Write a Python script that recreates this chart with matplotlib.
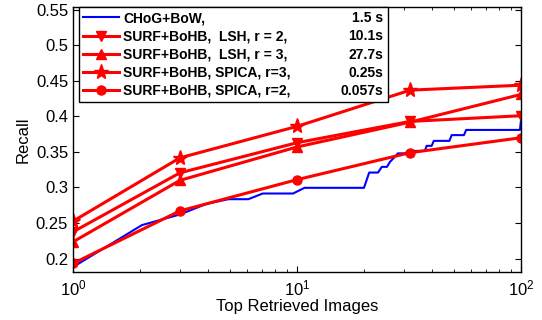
import matplotlib
matplotlib.use('Agg')
import matplotlib.pyplot as plt

plt.rcParams['font.family'] = ['Liberation Sans', 'DejaVu Sans']
plt.rcParams['mathtext.fontset'] = 'custom'
plt.rcParams['mathtext.rm'] = 'Liberation Sans'

# top-k retrieved images for the red curves
k = [1, 3, 10, 32, 100]
lsh_r2 = [0.2375, 0.3206, 0.363, 0.393, 0.401]
lsh_r3 = [0.2234, 0.310, 0.357, 0.392, 0.431]
spica_r3 = [0.2525, 0.3417, 0.386, 0.437, 0.444]
spica_r2 = [0.193, 0.267, 0.311, 0.349, 0.370]

# CHoG+BoW curve (dense, step-like)
chog_x = [1, 2.03, 3.0, 3.95, 4.94, 6.06, 7.03, 9.6, 10.8, 19.9, 21.0, 23.0,
          23.9, 25.2, 26.0, 27.3, 28.2, 30.4, 31.4, 37.2, 37.9, 39.9, 40.8,
          47.9, 49.0, 55.6, 56.9, 98.9, 100]
chog_y = [0.188, 0.247, 0.262, 0.277, 0.2835, 0.2835, 0.2915, 0.2915, 0.2995,
          0.2995, 0.321, 0.321, 0.329, 0.329, 0.336, 0.343, 0.348, 0.348,
          0.3515, 0.3515, 0.3586, 0.3586, 0.3656, 0.3656, 0.3737, 0.3737,
          0.381, 0.381, 0.395]

labels = ['CHoG+BoW,', 'SURF+BoHB,  LSH, r = 2,', 'SURF+BoHB,  LSH, r = 3,',
          'SURF+BoHB, SPICA, r=3,', 'SURF+BoHB, SPICA, r=2,']
times = ['1.5 s', '10.1s', '27.7s', '0.25s', '0.057s']

fig = plt.figure(figsize=(5.42, 3.2), dpi=100)
ax = fig.add_axes([0.1347, 0.15, 0.8266, 0.828])

ax.plot(chog_x, chog_y, color='blue', lw=1.5, label=labels[0])
ax.plot(k, lsh_r2, color='red', lw=2.2, marker='v', ms=7.5, label=labels[1])
ax.plot(k, lsh_r3, color='red', lw=2.2, marker='^', ms=7.5, label=labels[2])
ax.plot(k, spica_r3, color='red', lw=2.2, marker='*', ms=11, label=labels[3])
ax.plot(k, spica_r2, color='red', lw=2.2, marker='o', ms=6.5, label=labels[4])

ax.set_xscale('log')
ax.set_xlim(1, 100)
ax.set_ylim(0.181, 0.554)
ax.set_yticks([0.2, 0.25, 0.3, 0.35, 0.4, 0.45, 0.5, 0.55])
ax.set_yticklabels(['0.2', '0.25', '0.3', '0.35', '0.4', '0.45', '0.5', '0.55'])
ax.tick_params(direction='in', which='both', top=True, right=True, labelsize=12)
ax.tick_params(axis='x', pad=5)
ax.tick_params(which='major', length=4)
ax.tick_params(which='minor', length=2.5)
for s in ax.spines.values():
    s.set_linewidth(1.0)

ax.set_xlabel('Top Retrieved Images', fontsize=12, labelpad=0)
ax.set_ylabel('Recall', fontsize=12, labelpad=4)

leg = ax.legend(loc='upper left', bbox_to_anchor=(0.0134, 0.646, 0.69, 0.354),
                mode='expand', borderaxespad=0, fancybox=False, framealpha=1,
                edgecolor='black', prop={'weight': 'bold', 'size': 10},
                handlelength=2.6, labelspacing=0.3, handletextpad=0.3,
                borderpad=0.3)
leg.get_frame().set_linewidth(1.0)

# time column, right-aligned inside the legend box
fig.canvas.draw()
rend = fig.canvas.get_renderer()
lbox = leg.get_window_extent(rend)
inv = fig.transFigure.inverted()
for t, tm in zip(leg.get_texts(), times):
    bb = t.get_window_extent(rend)
    xr, yc = inv.transform((lbox.x1 - 5, (bb.y0 + bb.y1) / 2))
    fig.text(xr, yc, tm, ha='right', va='center', fontsize=10, fontweight='bold')

fig.savefig('out.png', dpi=100)
